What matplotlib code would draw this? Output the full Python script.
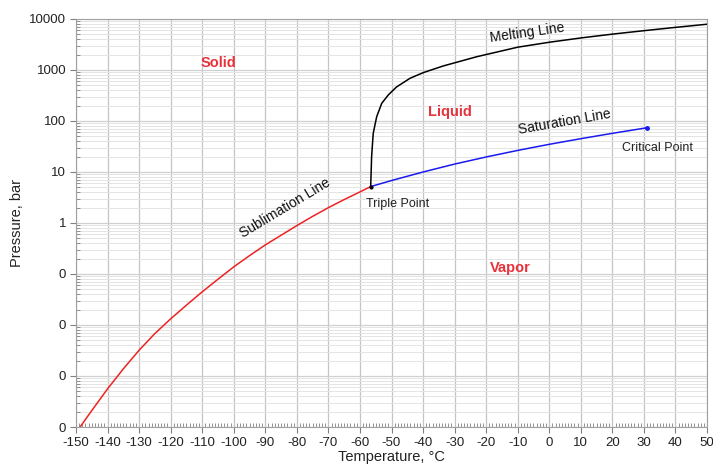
import matplotlib.pyplot as plt
import numpy as np
from matplotlib.ticker import FuncFormatter, LogLocator, MultipleLocator

plt.rcParams['font.family'] = ['Liberation Sans', 'DejaVu Sans']

# Sublimation line (T in degC, P in bar)
subl_T = [-148.7, -145, -140, -135, -130, -125, -120, -115, -110, -105,
          -100, -95, -90, -85, -80, -75, -70, -65, -60, -56.6]
subl_P = [1.0e-4, 2.1e-4, 5.6e-4, 1.38e-3, 3.2e-3, 6.8e-3, 0.0132, 0.0245, 0.0447, 0.079,
          0.138, 0.229, 0.372, 0.575, 0.89, 1.35, 2.0, 2.88, 4.07, 5.18]

# Saturation line, triple point -> critical point
sat_T = [-56.6, -50, -40, -30, -20, -10, 0, 10, 20, 30, 30.98]
sat_P = [5.18, 6.8, 10.0, 14.3, 19.7, 26.5, 34.9, 45.0, 57.3, 72.1, 73.8]

# Melting line
melt_T = [-56.6, -56.3, -55.8, -54.7, -53.1, -51.0, -48.4, -44.1, -39.9, -33.6,
          -23, -10, 0, 10, 20, 30, 40, 50]
melt_P = [5.18, 20, 57, 121, 222, 325, 465, 690, 890, 1200,
          1820, 2800, 3500, 4250, 5050, 5900, 6850, 7900]

red = '#e8323c'

fig = plt.figure(figsize=(7.13, 4.66), dpi=100)
ax = fig.add_axes([76/713, 1-427/466, 631/713, 408/466])

ax.plot(subl_T, subl_P, color='#ee2222', lw=1.1)
ax.plot(sat_T, sat_P, color='#1a1aee', lw=1.1)
ax.plot(melt_T, melt_P, color='black', lw=1.1)
ax.plot(sat_T[-1], sat_P[-1], 'o', color='#1a1aee', ms=2.5)
ax.plot(sat_T[0], sat_P[0], 'o', color='black', ms=2)

ax.set_yscale('log')
ax.set_xlim(-150, 50)
ax.set_ylim(1e-4, 1e4)
ax.xaxis.set_major_locator(MultipleLocator(10))
ax.xaxis.set_minor_locator(MultipleLocator(1))
ax.yaxis.set_major_locator(LogLocator(base=10, numticks=20))
ax.yaxis.set_minor_locator(LogLocator(base=10, subs=np.arange(2, 10), numticks=20))
ax.yaxis.set_major_formatter(FuncFormatter(lambda v, p: '{:.0f}'.format(v)))
ax.xaxis.set_major_formatter(FuncFormatter(lambda v, p: '{:.0f}'.format(v)))

ax.grid(True, which='major', axis='x', color='#c4c4c4', lw=0.9)
ax.grid(True, which='major', axis='y', color='#d0d0d0', lw=0.9)
ax.grid(True, which='minor', axis='y', color='#e4e4e4', lw=0.7)
ax.set_axisbelow(True)

for s in ax.spines.values():
    s.set_color('#a0a0a0')
ax.tick_params(which='major', direction='out', length=4, color='#808080',
               labelsize=9.5, labelcolor='#222222', pad=3)
ax.tick_params(which='minor', direction='in', length=3, color='#808080')

ax.set_xlabel('Temperature, °C', fontsize=10.5, color='#222222', labelpad=1)
ax.set_ylabel('Pressure, bar', fontsize=10.5, color='#222222', labelpad=4)

ax.text(-104.7, 1380, 'Solid', color=red, fontsize=10.5, weight='bold', ha='center', va='center')
ax.text(-31.5, 151, 'Liquid', color=red, fontsize=10.5, weight='bold', ha='center', va='center')
ax.text(-12.4, 0.13, 'Vapor', color=red, fontsize=10.5, weight='bold', ha='center', va='center')
ax.text(-7.0, 5350, 'Melting Line', fontsize=10, rotation=8, ha='center', va='center', color='#111111')
ax.text(5.0, 96, 'Saturation Line', fontsize=10, rotation=10, ha='center', va='center', color='#111111')
ax.text(-83.8, 1.95, 'Sublimation Line', fontsize=10, rotation=31, ha='center', va='center', color='#111111')
ax.text(-58.1, 2.35, 'Triple Point', fontsize=9, ha='left', va='center', color='#222222')
ax.text(23.1, 29.5, 'Critical Point', fontsize=9, ha='left', va='center', color='#222222')

fig.savefig('out.png', dpi=100)
